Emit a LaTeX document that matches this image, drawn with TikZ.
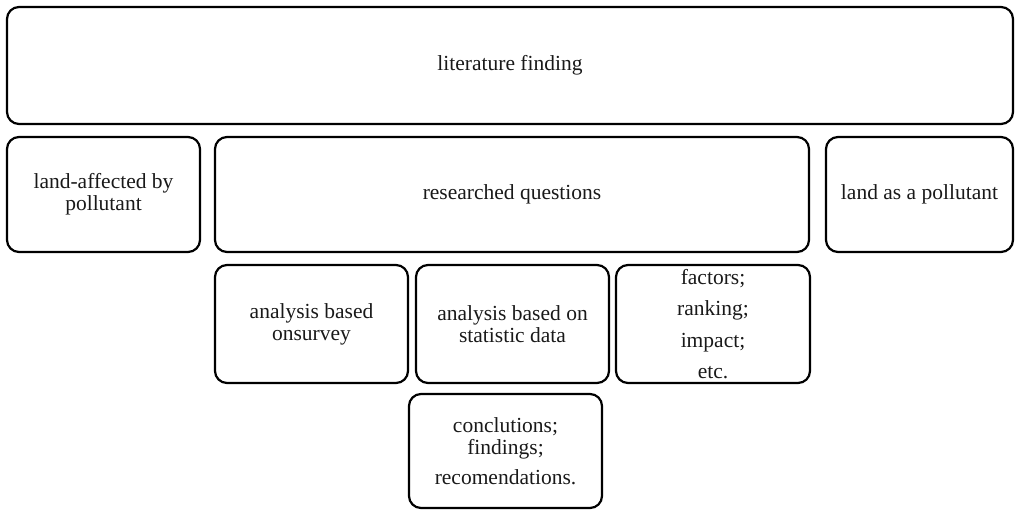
\documentclass[tikz,border=0pt]{standalone}
\usepackage{fontspec}
\setmainfont{Liberation Serif}
\newfontfamily\tnr{Liberation Serif}
\begin{document}
\begin{tikzpicture}[x=1pt,y=-1pt,
  box/.style={draw=black, line width=2.2pt, rounded corners=12pt, inner sep=0pt,
    align=center, font=\tnr\fontsize{21.5}{22}\selectfont, text=black!90}]
\useasboundingbox (0,0) rectangle (1016,510);
\node[box, minimum width=1006pt, minimum height=117pt] (lit) at (510,65.5) {literature finding};
\node[box, minimum width=193pt, minimum height=115pt] (aff) at (103.5,194.5) {land-affected by\\pollutant};
\node[box, minimum width=594pt, minimum height=115pt] (rq) at (512,194.5) {researched questions};
\node[box, minimum width=187pt, minimum height=115pt] (pol) at (919.5,194.5) {land as a pollutant};
\node[box, minimum width=193pt, minimum height=118pt] (sur) at (311.5,324) {analysis based\\onsurvey};
\node[box, minimum width=193pt, minimum height=118pt] (sta) at (512.5,324) {analysis based on\\statistic data};
\node[box, minimum width=194pt, minimum height=118pt, font=\tnr\fontsize{21.5}{31.5}\selectfont] (fac) at (713,324) {factors;\\ranking;\\impact;\\etc.};
\node[box, minimum width=193pt, minimum height=114pt] (con) at (505.5,451) {conclutions;\\findings;\\[8pt]recomendations.};
\end{tikzpicture}
\end{document}
